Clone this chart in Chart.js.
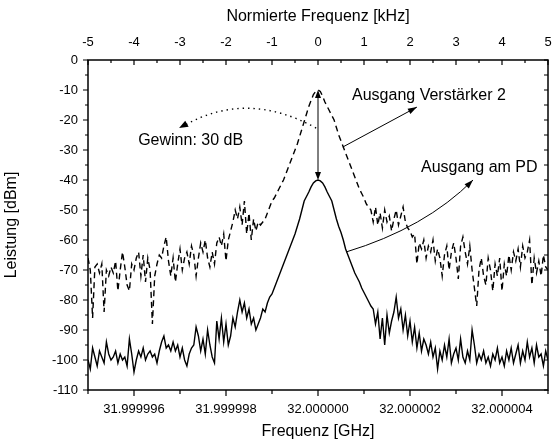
<!doctype html>
<html>
<head>
<meta charset="utf-8">
<title>Leistung</title>
<script src="https://cdn.jsdelivr.net/npm/chart.js"></script>
<style>
  html, body { margin: 0; padding: 0; background: #fff; }
  canvas { display: block; }
</style>
</head>
<body>
<canvas id="spektrum" width="553" height="443"></canvas>
<script>
// frequency grid in kHz relative to 32 GHz, step 0.05 kHz
var freq = Array.from({ length: 201 }, (_, i) => +(-5 + i * 0.05).toFixed(2));

// Ausgang Verstärker 2 [dBm]
var verstaerker = [
  -66, -70, -86, -69, -68, -71, -68, -84, -70, -72, -69, -71, -67, -77, -70, -64, -69, -75, -77, -68,
  -70, -66, -64, -72, -65, -74, -66, -70, -88, -72, -68, -65, -66, -62, -59, -67, -72, -66, -74, -68,
  -63, -70, -66, -64, -68, -62, -65, -72, -66, -61, -64, -60, -66, -69, -64, -68, -61, -59, -62, -58,
  -67, -60, -57, -54, -50, -53, -49, -55, -47, -58, -51, -60, -53, -57, -54, -55, -54, -53, -51, -49,
  -47, -46, -44.5, -43, -41.5, -40, -38, -36, -34, -32, -30, -28, -25.5, -23, -20.5, -18, -15.5, -13.5, -11.5, -10.5,
  -10, -10.5, -12, -14, -15.5, -17, -18.5, -20, -22.5, -25, -27, -29, -31, -33, -35, -37, -39, -41, -43, -44.5,
  -46, -48, -49, -50, -54, -49, -55, -51, -56, -50, -54, -52, -57, -53, -50, -55, -52, -49, -54, -56,
  -57, -59, -58, -68, -61, -63, -60, -66, -62, -64, -60, -67, -63, -66, -72, -65, -62, -70, -64, -61,
  -66, -73, -62, -59, -64, -68, -62, -70, -76, -82, -70, -66, -72, -75, -66, -70, -77, -68, -72, -66,
  -77, -68, -72, -65, -70, -64, -67, -63, -69, -62, -66, -64, -60, -75, -66, -71, -67, -72, -65, -69, -70
];

// Ausgang am PD [dBm]
var photodiode = [
  -100, -103, -96, -99, -102, -97, -99, -101, -94, -98, -100, -99, -97, -101, -98, -100, -99, -102, -93, -98,
  -104, -100, -97, -99, -96, -100, -98, -97, -99, -98, -101, -97, -94, -92, -96, -95, -97, -94, -97, -95,
  -99, -96, -100, -102, -98, -96, -95, -89, -92, -97, -93, -98, -90, -95, -99, -101, -87, -93, -86, -94,
  -88, -95, -92, -86, -89, -84, -80, -84, -81, -86, -83, -88, -86, -90, -88, -86, -83, -84, -81, -79,
  -78, -76, -74, -72, -70, -68, -66, -64, -62, -60, -58, -55.5, -53, -50, -47, -45.5, -44, -42.3, -41, -40.3,
  -40, -40.3, -41, -42.3, -44, -45.5, -47, -50, -53, -55.5, -57.5, -60, -63, -65, -67, -69, -71, -72.5, -74, -76,
  -77.5, -79, -80.5, -82, -83, -88, -84, -93, -86, -95, -85, -91, -87, -84, -79, -86, -83, -90, -85, -92,
  -87, -94, -89, -96, -91, -97, -93, -95, -98, -94, -99, -96, -103, -97, -100, -95, -99, -93, -101, -98,
  -96, -100, -93, -99, -101, -97, -100, -90, -95, -101, -98, -100, -97, -101, -99, -102, -98, -100, -96, -101,
  -99, -102, -97, -100, -96, -101, -98, -95, -101, -97, -100, -94, -99, -96, -101, -95, -99, -98, -102, -97, -100
];

// tick positions
var unterTicks = [-4, -2, 0, 2, 4];          // labelled on bottom axis (kHz offset)
var obenTicks = [-5, -4, -3, -2, -1, 0, 1, 2, 3, 4, 5];
var yTicks = [0, -10, -20, -30, -40, -50, -60, -70, -80, -90, -100, -110];

var schrift = "'Liberation Sans', Arial, sans-serif";
Chart.defaults.font.family = schrift;
Chart.defaults.color = '#000';

function pfeilspitze(ctx, x1, y1, x2, y2, len, half) {
  var a = Math.atan2(y2 - y1, x2 - x1);
  ctx.beginPath();
  ctx.moveTo(x2, y2);
  ctx.lineTo(x2 - len * Math.cos(a) + half * Math.sin(a), y2 - len * Math.sin(a) - half * Math.cos(a));
  ctx.lineTo(x2 - len * Math.cos(a) - half * Math.sin(a), y2 - len * Math.sin(a) + half * Math.cos(a));
  ctx.closePath();
  ctx.fill();
}

// axis box, tick marks and annotations
var rahmen = {
  id: 'rahmen',
  afterDatasetsDraw(chart) {
    var ctx = chart.ctx, a = chart.chartArea;
    var x = chart.scales.x, y = chart.scales.y;
    ctx.save();
    ctx.strokeStyle = '#000';
    ctx.fillStyle = '#000';
    ctx.lineWidth = 1.5;
    ctx.strokeRect(a.left, a.top, a.right - a.left, a.bottom - a.top);

    ctx.lineWidth = 1.2;
    ctx.beginPath();
    for (var v = -5; v <= 5; v++) {
      var p = x.getPixelForValue(v);
      var l = (v % 2 === 0) ? 6 : 4;
      ctx.moveTo(p, a.bottom); ctx.lineTo(p, a.bottom + l);
    }
    for (var v = -5; v <= 5; v += 0.5) {
      var p = x.getPixelForValue(v);
      var l = Number.isInteger(v) ? 5 : 3;
      ctx.moveTo(p, a.top); ctx.lineTo(p, a.top + l);
    }
    for (var v = -110; v <= 0; v += 5) {
      var p = y.getPixelForValue(v);
      var l = (v % 10 === 0) ? 5 : 3;
      ctx.moveTo(a.left, p); ctx.lineTo(a.left - l, p);
      ctx.moveTo(a.right, p); ctx.lineTo(a.right - 4, p);
    }
    ctx.stroke();

    var px = v => x.getPixelForValue(v), py = v => y.getPixelForValue(v);

    // double arrow: Gewinn
    ctx.lineWidth = 1;
    ctx.beginPath();
    ctx.moveTo(px(0), py(-12)); ctx.lineTo(px(0), py(-38));
    ctx.stroke();
    pfeilspitze(ctx, px(0), py(-20), px(0), py(-10), 8, 3);
    pfeilspitze(ctx, px(0), py(-30), px(0), py(-40), 8, 3);

    // dotted curved arrow
    var s = [px(-0.04), py(-22.7)], c = [px(-1.54), py(-10)], e = [px(-3.02), py(-22.7)];
    ctx.save();
    ctx.setLineDash([1.4, 4]);
    ctx.lineWidth = 1.4;
    ctx.beginPath();
    ctx.moveTo(s[0], s[1]);
    ctx.quadraticCurveTo(c[0], c[1], e[0] + 6, e[1] - 3);
    ctx.stroke();
    ctx.restore();
    pfeilspitze(ctx, c[0], c[1], e[0], e[1], 9, 3.5);

    // arrow to Ausgang Verstärker 2
    ctx.beginPath();
    ctx.moveTo(px(0.54), py(-29)); ctx.lineTo(px(2.15), py(-15.7));
    ctx.stroke();
    pfeilspitze(ctx, px(0.54), py(-29), px(2.15), py(-15.7), 9, 3);

    // arrow to Ausgang am PD
    ctx.beginPath();
    ctx.moveTo(px(0.61), py(-64));
    ctx.quadraticCurveTo(px(2.33), py(-56), px(3.37), py(-40));
    ctx.stroke();
    pfeilspitze(ctx, px(2.33), py(-56), px(3.37), py(-40), 9, 3);

    ctx.font = '16px ' + schrift;
    ctx.textBaseline = 'middle';
    ctx.textAlign = 'left';
    ctx.fillText('Gewinn: 30 dB', px(-3.91), py(-26.7));
    ctx.fillText('Ausgang Verstärker 2', px(0.74), py(-11.7));
    ctx.fillText('Ausgang am PD', px(2.24), py(-35.7));
    ctx.restore();
  }
};

new Chart(document.getElementById('spektrum').getContext('2d'), {
  type: 'line',
  data: {
    datasets: [{
      label: 'Ausgang Verstärker 2',
      data: verstaerker.map((v, i) => ({ x: freq[i], y: v })),
      borderColor: '#000',
      borderWidth: 1.4,
      borderDash: [6, 4],
      pointRadius: 0,
      tension: 0
    }, {
      label: 'Ausgang am PD',
      data: photodiode.map((v, i) => ({ x: freq[i], y: v })),
      borderColor: '#000',
      borderWidth: 1.4,
      pointRadius: 0,
      tension: 0
    }]
  },
  options: {
    responsive: false,
    animation: false,
    devicePixelRatio: 1,
    layout: { padding: { right: 5, top: 0, bottom: 0, left: 0 } },
    plugins: { legend: { display: false }, tooltip: { enabled: false } },
    scales: {
      x: {
        type: 'linear', position: 'bottom', min: -5, max: 5,
        grid: { display: false, drawTicks: false },
        border: { display: false },
        afterBuildTicks: s => { s.ticks = unterTicks.map(v => ({ value: v })); },
        afterFit: s => { s.height = 53; s.paddingLeft = 0; s.paddingRight = 0; },
        ticks: {
          padding: 12, maxRotation: 0, font: { size: 13 },
          callback: v => (32 + v * 1e-6).toFixed(6)
        },
        title: { display: true, text: 'Frequenz [GHz]', font: { size: 16 }, padding: { top: 0, bottom: 2 } }
      },
      x2: {
        type: 'linear', position: 'top', min: -5, max: 5,
        grid: { display: false, drawTicks: false },
        border: { display: false },
        afterBuildTicks: s => { s.ticks = obenTicks.map(v => ({ value: v })); },
        afterFit: s => { s.height = 60; s.paddingLeft = 4; s.paddingRight = 4; },
        ticks: { padding: 10, maxRotation: 0, font: { size: 13 } },
        title: { display: true, text: 'Normierte Frequenz [kHz]', font: { size: 16 }, padding: { top: 7, bottom: 0 } }
      },
      y: {
        type: 'linear', position: 'left', min: -110, max: 0,
        grid: { display: false, drawTicks: false },
        border: { display: false },
        afterBuildTicks: s => { s.ticks = yTicks.map(v => ({ value: v })); },
        afterFit: s => { s.width = 88; },
        ticks: { padding: 10, font: { size: 13 } },
        title: { display: true, text: 'Leistung [dBm]', font: { size: 16 }, padding: { top: 2, bottom: 0 } }
      }
    }
  },
  plugins: [rahmen]
});
</script>
</body>
</html>
